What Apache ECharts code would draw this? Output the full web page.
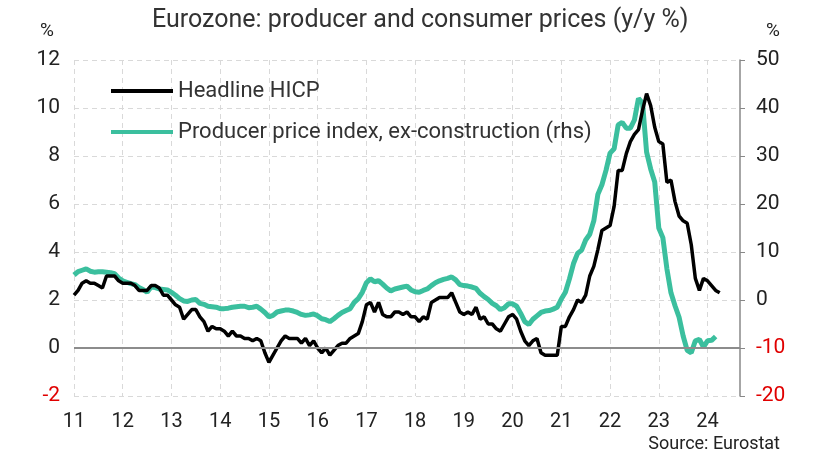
<!DOCTYPE html>
<html>
<head>
<meta charset="utf-8">
<script src="https://cdn.jsdelivr.net/npm/echarts@6/dist/echarts.min.js"></script>
<style>
  html, body { margin: 0; padding: 0; background: #fff; }
  #chart { width: 818px; height: 459px; }
</style>
</head>
<body>
<div id="chart"></div>
<script>
// monthly, Jan 2011 onward
var hicp = [
  2.2, 2.4, 2.7, 2.8, 2.7, 2.7, 2.6, 2.5, 3.0, 3.0, 3.0, 2.8,
  2.7, 2.7, 2.7, 2.6, 2.4, 2.4, 2.4, 2.6, 2.6, 2.5, 2.2, 2.2,
  2.0, 1.8, 1.7, 1.2, 1.4, 1.6, 1.6, 1.3, 1.1, 0.7, 0.9, 0.8,
  0.8, 0.7, 0.5, 0.7, 0.5, 0.5, 0.4, 0.4, 0.3, 0.4, 0.3, -0.2,
  -0.6, -0.3, 0.0, 0.3, 0.5, 0.4, 0.4, 0.4, 0.2, 0.4, 0.1, 0.3,
  0.0, -0.2, 0.0, -0.3, -0.1, 0.1, 0.2, 0.2, 0.4, 0.5, 0.6, 1.1,
  1.8, 1.9, 1.5, 1.9, 1.4, 1.3, 1.3, 1.5, 1.5, 1.4, 1.5, 1.3,
  1.3, 1.1, 1.3, 1.2, 1.9, 2.0, 2.1, 2.1, 2.1, 2.3, 1.9, 1.5,
  1.4, 1.5, 1.4, 1.7, 1.2, 1.3, 1.0, 1.0, 0.8, 0.7, 1.0, 1.3,
  1.4, 1.2, 0.7, 0.3, 0.1, 0.3, 0.4, -0.2, -0.3, -0.3, -0.3, -0.3,
  0.9, 0.9, 1.3, 1.6, 2.0, 1.9, 2.2, 3.0, 3.4, 4.1, 4.9, 5.0,
  5.1, 5.9, 7.4, 7.4, 8.1, 8.6, 8.9, 9.1, 9.9, 10.6, 10.1, 9.2,
  8.6, 8.5, 6.9, 7.0, 6.1, 5.5, 5.3, 5.2, 4.3, 2.9, 2.4, 2.9,
  2.8, 2.6, 2.4, 2.3
];
var ppi = [
  5.2, 5.9, 6.2, 6.5, 6.0, 5.8, 5.9, 5.9, 5.8, 5.7, 5.5, 4.6,
  4.0, 3.7, 3.4, 3.2, 2.6, 2.2, 1.6, 2.7, 2.6, 2.3, 2.2, 2.1,
  1.6, 1.0, 0.3, -0.2, -0.3, 0.0, 0.1, -0.7, -0.9, -1.3, -1.4, -1.5,
  -1.8, -1.8, -1.7, -1.5, -1.4, -1.3, -1.3, -1.6, -1.5, -1.3, -1.9, -2.6,
  -3.5, -3.2, -2.5, -2.3, -2.1, -2.1, -2.3, -2.6, -3.0, -3.2, -3.1, -2.9,
  -3.3, -3.9, -4.1, -4.5, -3.9, -3.2, -2.6, -2.2, -1.8, -0.5, 0.3, 1.6,
  3.6, 4.4, 3.8, 4.0, 3.3, 2.5, 1.9, 2.3, 2.5, 2.7, 2.9, 2.1,
  1.7, 1.6, 2.0, 2.3, 3.0, 3.6, 4.0, 4.3, 4.5, 4.8, 4.2, 3.2,
  3.0, 2.9, 2.7, 2.4, 1.4, 0.7, 0.1, -0.7, -1.2, -2.0, -1.6, -0.8,
  -0.8, -1.3, -2.8, -4.5, -5.1, -4.0, -3.3, -2.6, -2.3, -2.2, -1.9, -1.5,
  0.2, 1.6, 4.4, 7.6, 9.7, 10.4, 12.5, 13.7, 16.5, 22.0, 24.0, 27.0,
  30.6, 31.5, 36.5, 37.0, 35.8, 35.8, 37.5, 42.0, 41.0, 30.8, 27.3, 24.6,
  15.0, 13.0, 6.5, 1.5, -1.2, -3.6, -7.5, -10.5, -11.0, -8.5, -8.2, -9.8,
  -8.5, -8.4, -7.6
];
var firstYear = 2011;
var lastMonthCount = 165; // Jan 2011 .. Sep 2024 (axis end)
var months = [];
for (var i = 0; i < lastMonthCount; i++) {
  var y = firstYear + Math.floor(i / 12);
  var m = i % 12 + 1;
  months.push(y + '-' + (m < 10 ? '0' + m : m));
}
var leftTicks = { min: -2, max: 12, step: 2 };
var rightTicks = { min: -20, max: 50, step: 10 };

var FONT = 'Roboto';
var myChart = echarts.init(document.getElementById('chart'));

function isYearStart(idx) { return idx % 12 === 0; }

var option = {
  backgroundColor: '#fff',
  animation: false,
  textStyle: { fontFamily: FONT },
  title: {
    text: 'Eurozone: producer and consumer prices (y/y %)',
    left: 147,
    top: 3,
    textStyle: { fontFamily: FONT, fontSize: 25, fontWeight: 'normal', color: '#333' }
  },
  legend: {
    orient: 'vertical',
    left: 106,
    top: 75,
    itemWidth: 62,
    itemHeight: 4,
    itemGap: 19,
    icon: 'rect',
    textStyle: { fontFamily: FONT, fontSize: 22, color: '#333' },
    data: ['Headline HICP', 'Producer price index, ex-construction (rhs)']
  },
  grid: { left: 74, right: 78, top: 60, bottom: 63 },
  xAxis: {
    type: 'category',
    data: months,
    boundaryGap: false,
    axisLine: { show: false },
    axisTick: { show: false },
    axisLabel: {
      interval: function (idx) { return isYearStart(idx); },
      formatter: function (v) { return v.slice(2, 4); },
      fontSize: 20,
      color: '#222',
      margin: 16
    },
    splitLine: {
      show: true,
      interval: function (idx) { return isYearStart(idx); },
      lineStyle: { color: '#d9d9d9', type: [5, 4], width: 1 }
    }
  },
  yAxis: [
    {
      type: 'value',
      min: leftTicks.min, max: leftTicks.max, interval: leftTicks.step,
      axisLine: { show: false },
      axisTick: { show: false },
      axisLabel: {
        fontSize: 21, margin: 14,
        color: function (v) { return v < 0 ? '#e00000' : '#222'; }
      },
      splitLine: { lineStyle: { color: '#d9d9d9', type: [5, 4], width: 1 } }
    },
    {
      type: 'value',
      min: rightTicks.min, max: rightTicks.max, interval: rightTicks.step,
      axisLine: { show: true, lineStyle: { color: '#888', width: 1.5 } },
      axisTick: { show: true, length: 5, lineStyle: { color: '#888' } },
      axisLabel: {
        fontSize: 21, margin: 16,
        color: function (v) { return v < 0 ? '#e00000' : '#222'; }
      },
      splitLine: { show: false }
    }
  ],
  graphic: [
    { type: 'text', left: 40, top: 22, style: { text: '%', fontFamily: FONT, fontSize: 19, fill: '#222' } },
    { type: 'text', left: 766, top: 22, style: { text: '%', fontFamily: FONT, fontSize: 19, fill: '#222' } },
    { type: 'text', right: 38, top: 435, style: { text: 'Source: Eurostat', fontFamily: FONT, fontSize: 18, fill: '#222' } }
  ],
  series: [
    {
      name: 'Producer price index, ex-construction (rhs)',
      type: 'line',
      yAxisIndex: 1,
      data: ppi,
      showSymbol: false,
      symbol: 'none',
      lineStyle: { color: '#3BBF9E', width: 5 },
      itemStyle: { color: '#3BBF9E' },
      z: 2
    },
    {
      name: 'Headline HICP',
      type: 'line',
      yAxisIndex: 0,
      data: hicp,
      showSymbol: false,
      symbol: 'none',
      lineStyle: { color: '#000', width: 3.5 },
      itemStyle: { color: '#000' },
      z: 3,
      markLine: {
        silent: true,
        symbol: 'none',
        label: { show: false },
        lineStyle: { color: '#8c8c8c', type: 'solid', width: 2 },
        data: [{ yAxis: 0 }]
      }
    }
  ]
};
if (option && typeof option === "object") {
  myChart.setOption(option, true);
}
</script>
</body>
</html>
